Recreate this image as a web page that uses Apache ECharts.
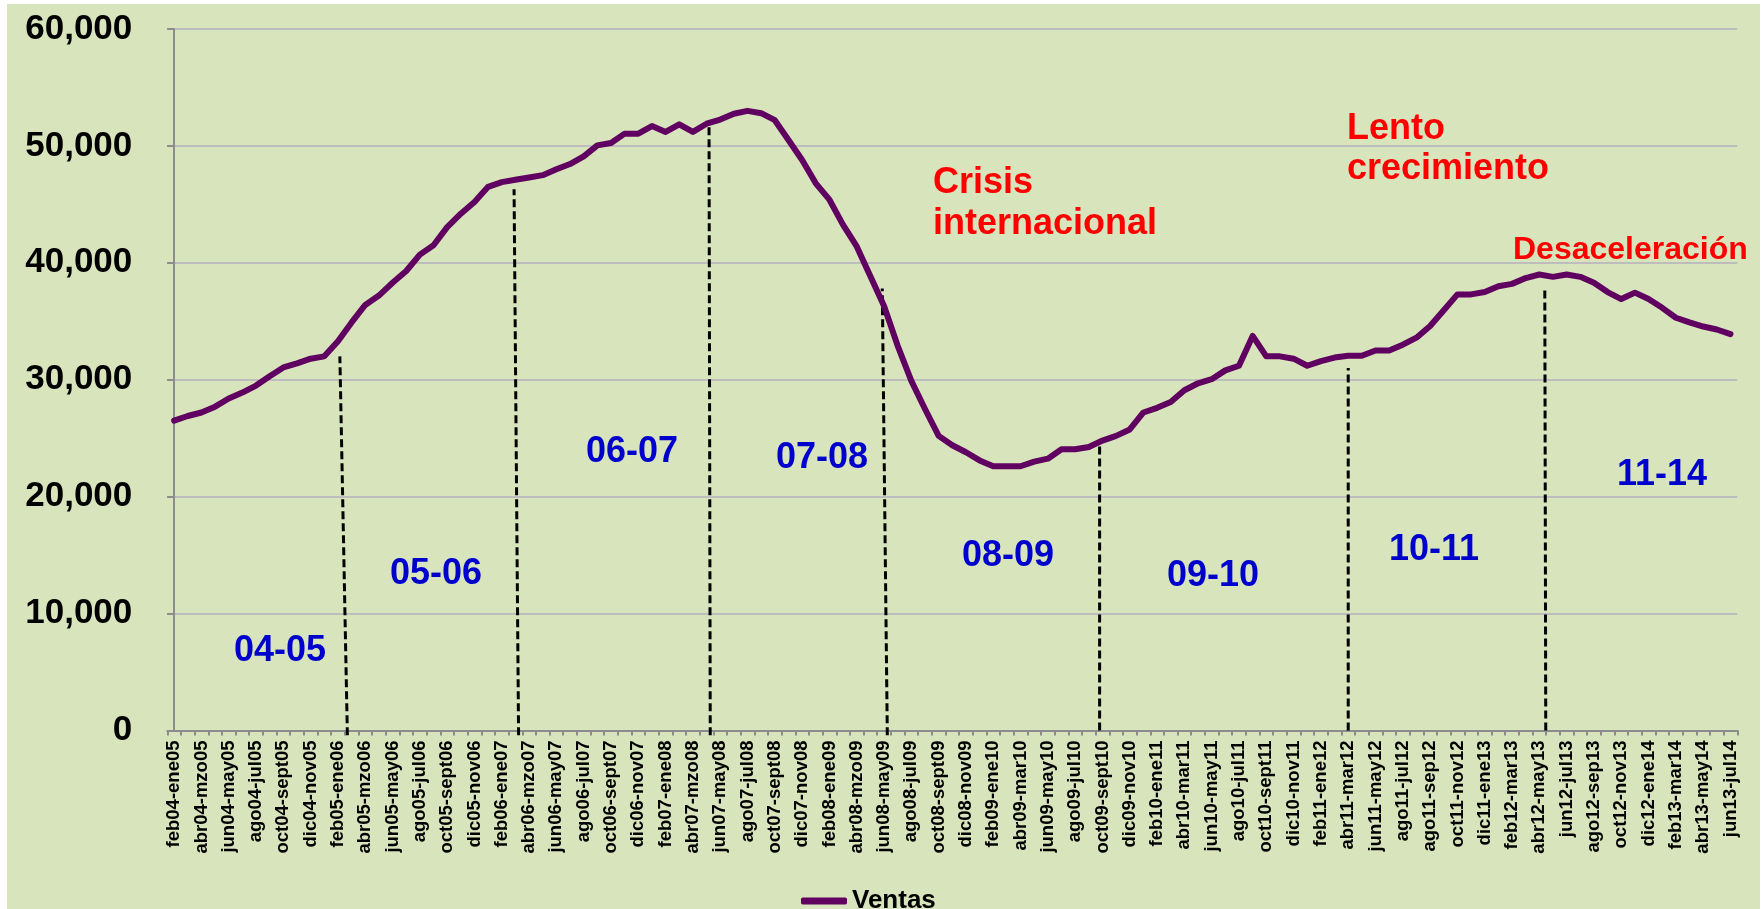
<!DOCTYPE html>
<html>
<head>
<meta charset="utf-8">
<script src="https://cdn.jsdelivr.net/npm/echarts/dist/echarts.min.js"></script>
<style>
  html, body { margin: 0; padding: 0; background: #ffffff; }
  #chart { position: absolute; left: 7px; top: 4px; width: 1753px; height: 905px; }
</style>
</head>
<body>
<div id="chart"></div>
<script>
  // periodos moviles de 12 meses (solo los pares se ven en el eje)
  var periodos = [
    'feb04-ene05', 'mzo04-feb05', 'abr04-mzo05', 'may04-abr05', 'jun04-may05', 'jul04-jun05',
    'ago04-jul05', 'sept04-ago05', 'oct04-sept05', 'nov04-oct05', 'dic04-nov05', 'ene05-dic05',
    'feb05-ene06', 'mzo05-feb06', 'abr05-mzo06', 'may05-abr06', 'jun05-may06', 'jul05-jun06',
    'ago05-jul06', 'sept05-ago06', 'oct05-sept06', 'nov05-oct06', 'dic05-nov06', 'ene06-dic06',
    'feb06-ene07', 'mzo06-feb07', 'abr06-mzo07', 'may06-abr07', 'jun06-may07', 'jul06-jun07',
    'ago06-jul07', 'sept06-ago07', 'oct06-sept07', 'nov06-oct07', 'dic06-nov07', 'ene07-dic07',
    'feb07-ene08', 'mzo07-feb08', 'abr07-mzo08', 'may07-abr08', 'jun07-may08', 'jul07-jun08',
    'ago07-jul08', 'sept07-ago08', 'oct07-sept08', 'nov07-oct08', 'dic07-nov08', 'ene08-dic08',
    'feb08-ene09', 'mzo08-feb09', 'abr08-mzo09', 'may08-abr09', 'jun08-may09', 'jul08-jun09',
    'ago08-jul09', 'sept08-ago09', 'oct08-sept09', 'nov08-oct09', 'dic08-nov09', 'ene09-dic09',
    'feb09-ene10', 'mar09-feb10', 'abr09-mar10', 'may09-abr10', 'jun09-may10', 'jul09-jun10',
    'ago09-jul10', 'sept09-ago10', 'oct09-sept10', 'nov09-oct10', 'dic09-nov10', 'ene10-dic10',
    'feb10-ene11', 'mar10-feb11', 'abr10-mar11', 'may10-abr11', 'jun10-may11', 'jul10-jun11',
    'ago10-jul11', 'sept10-ago11', 'oct10-sept11', 'nov10-oct11', 'dic10-nov11', 'ene11-dic11',
    'feb11-ene12', 'mar11-feb12', 'abr11-mar12', 'may11-abr12', 'jun11-may12', 'jul11-jun12',
    'ago11-jul12', 'sep11-ago12', 'ago11-sep12', 'nov11-oct12', 'oct11-nov12', 'ene12-dic12',
    'dic11-ene13', 'mar12-feb13', 'feb12-mar13', 'may12-abr13', 'abr12-may13', 'jul12-jun13',
    'jun12-jul13', 'sep12-ago13', 'ago12-sep13', 'nov12-oct13', 'oct12-nov13', 'ene13-dic13',
    'dic12-ene14', 'mar13-feb14', 'feb13-mar14', 'may13-abr14', 'abr13-may14', 'jul13-jun14',
    'jun13-jul14'
  ];

  var ventas = [
    26500, 26900, 27200, 27700, 28400, 28900, 29500, 30300, 31050, 31400,
    31800, 32000, 33300, 34900, 36400, 37200, 38300, 39300, 40700, 41500,
    43050, 44200, 45200, 46500, 46900, 47100, 47300, 47500, 48000, 48450,
    49100, 50050, 50250, 51050, 51050, 51700, 51200, 51850, 51200, 51900,
    52250, 52750, 53000, 52800, 52200, 50500, 48800, 46800, 45400, 43250,
    41400, 38850, 36300, 32900, 29900, 27500, 25200, 24400, 23800, 23100,
    22600, 22600, 22600, 23000, 23250, 24050, 24050, 24250, 24800, 25200,
    25750, 27200, 27600, 28100, 29100, 29700, 30050, 30800, 31200, 33750,
    32000, 32000, 31800, 31200, 31600, 31900, 32050, 32050, 32500, 32500,
    33000, 33600, 34600, 35950, 37300, 37300, 37500, 38000, 38200, 38700,
    39000, 38800, 39000, 38800, 38300, 37500, 36900, 37450, 36900, 36150,
    35300, 34900, 34550, 34300, 33900
  ];

  // lineas punteadas que separan los ciclos (posicion en el eje de periodos)
  var cortePie = [12.69, 25.23, 39.27, 52.24, 67.79, 86.0, 100.47];
  var corteTope = [12.14, 24.9, 39.18, 51.87, 67.79, 86.0, 100.4];
  var corteAlto = [32000, 46300, 52100, 37800, 24600, 31000, 37800];
  var corteBajo = [-400, -400, -400, -400, 0, 0, 0];

  var etiquetasCiclo = ['04-05', '05-06', '06-07', '07-08', '08-09', '09-10', '10-11', '11-14'];
  var notas = ['Crisis', 'internacional', 'Lento', 'crecimiento', 'Desaceleración'];

  var fuente = "'Liberation Sans', Arial, sans-serif";

  var myChart = echarts.init(document.getElementById('chart'));

  var series = [{
    name: 'Ventas',
    type: 'line',
    data: ventas,
    symbol: 'none',
    clip: false,
    z: 3,
    lineStyle: { color: '#600060', width: 6, cap: 'round', join: 'round' },
    itemStyle: { color: '#600060' }
  }];

  for (var i = 0; i < cortePie.length; i++) {
    series.push({
      name: 'corte' + i,
      type: 'line',
      xAxisIndex: 1,
      data: [[cortePie[i], corteBajo[i]], [corteTope[i], corteAlto[i]]],
      symbol: 'none',
      clip: false,
      silent: true,
      z: 2,
      lineStyle: { color: '#000000', width: 3, type: [8, 4] }
    });
  }

  // posiciones de los textos (px dentro del grafico)
  var cicloPos = [[273, 647], [429, 570], [625, 448], [815, 454], [1001, 552], [1206, 572], [1427, 546], [1655, 471]];
  var notaPos = [[926, 179], [926, 220], [1340, 125], [1340, 165], [1506, 246]];
  var notaTam = [36, 36, 36, 36, 32];

  var graphic = [];
  etiquetasCiclo.forEach(function (t, k) {
    graphic.push({
      type: 'text', x: cicloPos[k][0], y: cicloPos[k][1], silent: true,
      style: { text: t, fill: '#0000cc', font: 'bold 36px ' + fuente, align: 'center', verticalAlign: 'middle' }
    });
  });
  notas.forEach(function (t, k) {
    graphic.push({
      type: 'text', x: notaPos[k][0], y: notaPos[k][1], silent: true,
      style: { text: t, fill: '#ff0000', font: 'bold ' + notaTam[k] + 'px ' + fuente, align: 'left', verticalAlign: 'middle' }
    });
  });

  var option = {
    animation: false,
    backgroundColor: '#d8e4bc',
    textStyle: { fontFamily: fuente },
    grid: { left: 160.3, right: 22.7, top: 25, bottom: 178.5, containLabel: false },
    legend: {
      data: [{ name: 'Ventas', icon: 'roundRect' }],
      left: 794,
      top: 884,
      padding: 0,
      itemWidth: 46,
      itemHeight: 7,
      itemGap: 5,
      textStyle: { color: '#000', fontSize: 26, fontWeight: 'bold', fontFamily: fuente }
    },
    xAxis: [{
      type: 'category',
      data: periodos,
      boundaryGap: true,
      axisLine: { lineStyle: { color: '#8c8c8c', width: 2 } },
      axisTick: { show: true, interval: 0, length: 5, lineStyle: { color: '#8c8c8c', width: 2 } },
      axisLabel: {
        interval: 1,
        rotate: 90,
        margin: 10,
        color: '#000',
        fontSize: 18.5,
        fontWeight: 'bold',
        fontFamily: fuente
      },
      splitLine: { show: false }
    }, {
      type: 'value',
      min: -0.5,
      max: 114.5,
      show: false
    }],
    yAxis: {
      type: 'value',
      min: 0,
      max: 60000,
      interval: 10000,
      axisLine: { show: true, lineStyle: { color: '#8c8c8c', width: 2 } },
      axisTick: { show: true, length: 7, lineStyle: { color: '#8c8c8c', width: 2 } },
      splitLine: { show: true, lineStyle: { color: '#bdbdbd', width: 2 } },
      axisLabel: {
        margin: 35,
        color: '#000',
        fontSize: 35,
        fontWeight: 'bold',
        fontFamily: fuente,
        formatter: function (v) { return v.toLocaleString('en-US'); }
      }
    },
    graphic: graphic,
    series: series
  };

  myChart.setOption(option);
</script>
</body>
</html>
